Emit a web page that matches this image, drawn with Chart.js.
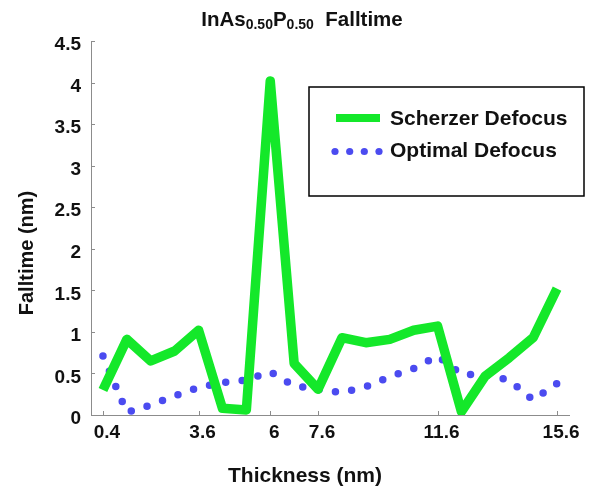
<!DOCTYPE html>
<html>
<head>
<meta charset="utf-8">
<script src="https://cdn.jsdelivr.net/npm/chart.js@4/dist/chart.umd.min.js"></script>
<style>
  html, body { margin: 0; padding: 0; background: #fff; overflow: hidden; }
  canvas { display: block; }
</style>
</head>
<body>
<canvas id="c" width="613" height="489"></canvas>
<script>
// Sample thickness (nm)
const thickness = [0.4, 1.2, 2.0, 2.8, 3.6, 4.4, 5.2, 6.0, 6.8, 7.6, 8.4, 9.2, 10.0, 10.8, 11.6, 12.4, 13.2, 14.0, 14.8, 15.6];
// Falltime (nm) at Scherzer defocus
const scherzer = [0.30, 0.91, 0.65, 0.77, 1.02, 0.08, 0.06, 4.02, 0.62, 0.31, 0.93, 0.87, 0.91, 1.02, 1.07, 0.04, 0.47, 0.69, 0.93, 1.52];
// Falltime (nm) at optimal defocus
const optimal = [0.71, 0.03, 0.12, 0.23, 0.33, 0.39, 0.42, 0.52, 0.35, 0.31, 0.27, 0.34, 0.46, 0.56, 0.71, 0.49, 0.48, 0.42, 0.18, 0.38];
// Labelled thickness ticks
const xTickValues = [0.4, 3.6, 6, 7.6, 11.6, 15.6];
const seriesNames = ['Scherzer Defocus', 'Optimal Defocus'];
const xTitle = 'Thickness (nm)';
const yTitle = 'Falltime (nm)';
// Title pieces: [text, isSubscript]
const titleParts = [['InAs', false], ['0.50', true], ['P', false], ['0.50', true], ['  Falltime', false]];

const FONT = "'Liberation Sans', Arial, Helvetica, sans-serif";
const GREEN = '#14e82a';
const BLUE = '#4b4bf0';
const AXIS = '#8c8c8c';
const INK = '#111111';

const toPoints = ys => thickness.map((t, i) => ({ x: t, y: ys[i] }));

// Axis ticks, titles and boxed legend
const decor = {
  id: 'decor',
  beforeDatasetsDraw(chart) {
    const { ctx, chartArea: a, scales: { x, y } } = chart;
    ctx.save();
    ctx.strokeStyle = AXIS;
    ctx.lineWidth = 1;
    y.ticks.forEach(t => {
      const py = Math.round(y.getPixelForValue(t.value)) + 0.5;
      ctx.beginPath(); ctx.moveTo(a.left, py); ctx.lineTo(a.left + 4, py); ctx.stroke();
    });
    x.ticks.forEach(t => {
      const px = Math.round(x.getPixelForValue(t.value)) + 0.5;
      ctx.beginPath(); ctx.moveTo(px, a.bottom); ctx.lineTo(px, a.bottom - 4); ctx.stroke();
    });
    ctx.restore();
  },
  afterDraw(chart) {
    const { ctx } = chart;
    ctx.save();
    ctx.fillStyle = INK;

    // Title with subscripts
    const bigFont = `bold 20.5px ${FONT}`;
    const subFont = `bold 14px ${FONT}`;
    let total = 0;
    titleParts.forEach(([s, sub]) => { ctx.font = sub ? subFont : bigFont; total += ctx.measureText(s).width; });
    let tx = 302 - total / 2;
    ctx.textBaseline = 'alphabetic';
    ctx.textAlign = 'left';
    titleParts.forEach(([s, sub]) => {
      ctx.font = sub ? subFont : bigFont;
      ctx.fillText(s, tx, sub ? 29 : 26);
      tx += ctx.measureText(s).width;
    });

    // Axis titles
    ctx.font = `bold 21px ${FONT}`;
    ctx.textAlign = 'center';
    ctx.fillText(xTitle, 305, 482);
    ctx.font = `bold 20px ${FONT}`;
    ctx.save();
    ctx.translate(33, 253);
    ctx.rotate(-Math.PI / 2);
    ctx.fillText(yTitle, 0, 0);
    ctx.restore();

    // Legend box
    ctx.strokeStyle = '#000';
    ctx.lineWidth = 1.5;
    ctx.strokeRect(309, 87, 275, 109);

    const ds = chart.data.datasets;
    // solid line sample
    ctx.strokeStyle = ds[0].borderColor;
    ctx.lineWidth = 8;
    ctx.lineCap = 'butt';
    ctx.beginPath(); ctx.moveTo(336, 118); ctx.lineTo(380, 118); ctx.stroke();
    // dotted sample
    ctx.fillStyle = ds[1].borderColor;
    [335, 349.7, 364.3, 379].forEach(cx => {
      ctx.beginPath(); ctx.arc(cx, 151.5, 3.6, 0, Math.PI * 2); ctx.fill();
    });

    ctx.fillStyle = INK;
    ctx.font = `bold 21px ${FONT}`;
    ctx.textAlign = 'left';
    ctx.fillText(ds[0].label, 390, 125);
    ctx.fillText(ds[1].label, 390, 157);
    ctx.restore();
  }
};

new Chart(document.getElementById('c'), {
  type: 'line',
  data: {
    datasets: [
      {
        label: seriesNames[0],
        data: toPoints(scherzer),
        borderColor: GREEN,
        borderWidth: 9.5,
        borderJoinStyle: 'round',
        borderCapStyle: 'butt',
        pointRadius: 0,
        tension: 0,
        fill: false
      },
      {
        label: seriesNames[1],
        data: toPoints(optimal),
        borderColor: BLUE,
        borderWidth: 7.5,
        borderDash: [0, 16.5],
        borderCapStyle: 'round',
        borderJoinStyle: 'round',
        pointRadius: 0,
        tension: 0,
        fill: false
      }
    ]
  },
  options: {
    responsive: false,
    devicePixelRatio: 1,
    animation: false,
    layout: { padding: { top: 41, right: 44, bottom: 0, left: 0 } },
    plugins: {
      legend: { display: false },
      title: { display: false },
      tooltip: { enabled: false }
    },
    scales: {
      x: {
        type: 'linear',
        position: 'bottom',
        min: 0,
        max: 16,
        afterBuildTicks: s => { s.ticks = xTickValues.map(v => ({ value: v })); },
        afterFit: s => { s.height = 74; },
        grid: { display: false, drawTicks: false },
        border: { display: true, color: AXIS, width: 1 },
        ticks: {
          autoSkip: false,
          maxRotation: 0,
          padding: 6,
          labelOffset: 4,
          color: INK,
          font: { family: FONT, size: 19, weight: 'bold' },
          callback: v => String(v)
        }
      },
      y: {
        type: 'linear',
        min: 0,
        max: 4.5,
        afterFit: s => { s.width = 91; },
        grid: { display: false, drawTicks: false },
        border: { display: true, color: AXIS, width: 1 },
        ticks: {
          stepSize: 0.5,
          padding: 10,
          labelOffset: 4,
          color: INK,
          font: { family: FONT, size: 19, weight: 'bold' },
          callback: v => String(Number(v))
        }
      }
    }
  },
  plugins: [decor]
});
</script>
</body>
</html>
